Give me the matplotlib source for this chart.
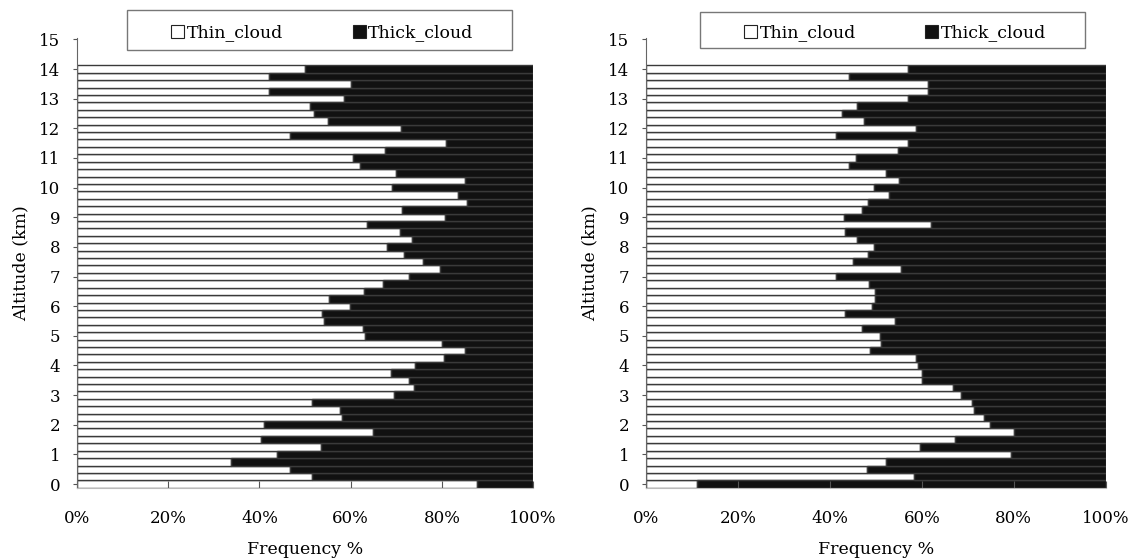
import matplotlib
matplotlib.use("Agg")
import matplotlib.pyplot as plt
import numpy as np
from matplotlib.patches import Patch, Rectangle

plt.rcParams['font.family'] = ['DejaVu Serif']

# altitude levels (km), 0.25 km steps
altitude = np.arange(0, 14.25, 0.25)

# thin cloud share (%) from 0 km upward; thick = 100 - thin
thin_left = [87.6, 51.6, 46.6, 33.8, 43.9, 53.4, 40.3, 64.8, 40.9, 58.2,
             57.7, 51.6, 69.5, 73.9, 72.7, 68.8, 74.1, 80.5, 85.0, 80.0,
             63.2, 62.6, 54.2, 53.8, 59.9, 55.3, 63.0, 67.2, 72.7, 79.6,
             75.8, 71.8, 68.0, 73.4, 70.8, 63.5, 80.7, 71.2, 85.5, 83.6,
             69.0, 85.0, 70.0, 62.0, 60.6, 67.6, 81.0, 46.6, 71.0, 55.0,
             52.0, 51.0, 58.5, 42.0, 60.0, 42.0, 50.0]

thin_right = [11.2, 58.2, 48.0, 52.2, 79.3, 59.6, 67.2, 80.0, 74.9, 73.6,
              71.4, 71.0, 68.5, 66.7, 60.0, 60.0, 59.2, 58.8, 48.8, 51.2,
              50.9, 47.0, 54.2, 43.3, 49.1, 49.9, 49.9, 48.6, 41.3, 55.4,
              45.1, 48.2, 49.6, 46.0, 43.3, 62.0, 43.1, 47.1, 48.3, 52.9,
              49.6, 55.1, 52.3, 44.2, 45.7, 54.9, 56.9, 41.3, 58.8, 47.5,
              42.6, 46.0, 56.9, 61.4, 61.4, 44.2, 56.9]

xticks = [0, 20, 40, 60, 80, 100]
xtick_labels = ['0%', '20%', '40%', '60%', '80%', '100%']
yticks = list(range(0, 16))

fig = plt.figure(figsize=(11.33, 5.58), dpi=100)
ax_l = fig.add_axes([0.068, 0.1256, 0.4025, 0.8064])
ax_r = fig.add_axes([0.570, 0.1256, 0.406, 0.8064])

# legend box (axes coords): x0, y0, w, h
boxes = {ax_l: (0.11, 0.973, 0.844, 0.089), ax_r: (0.117, 0.978, 0.837, 0.079)}

for ax, thin in [(ax_l, thin_left), (ax_r, thin_right)]:
    thin = np.array(thin)
    thick = 100 - thin
    ax.barh(altitude, thin, height=0.25, color='white', edgecolor='#3a3a3a', linewidth=1.0)
    ax.barh(altitude, thick, left=thin, height=0.25, color='#111111', edgecolor='#3a3a3a', linewidth=1.0)

    ax.set_xlim(0, 100)
    ax.set_ylim(-0.13, 15.05)
    ax.set_xticks(xticks)
    ax.set_xticklabels(xtick_labels)
    ax.set_yticks(yticks)
    ax.tick_params(axis='x', direction='in', length=5, pad=16, labelsize=12, color='#555555')
    ax.tick_params(axis='y', direction='out', length=3, pad=9, labelsize=12, color='#555555')
    for s in ['top', 'right']:
        ax.spines[s].set_visible(False)
    ax.spines['left'].set_color('#666666')
    ax.spines['bottom'].set_color('#bbbbbb')

    ax.set_xlabel('Frequency %', fontsize=12.5, labelpad=10)
    ax.set_ylabel('Altitude (km)', fontsize=12.5, labelpad=7)

    bx, by, bw, bh = boxes[ax]
    ax.add_patch(Rectangle((bx, by), bw, bh, transform=ax.transAxes, clip_on=False,
                           facecolor='white', edgecolor='#777777', linewidth=1.0, zorder=5))
    handles = [Patch(facecolor='white', edgecolor='#222222', linewidth=0.8, label='Thin_cloud'),
               Patch(facecolor='#111111', edgecolor='#222222', linewidth=0.8, label='Thick_cloud')]
    leg = ax.legend(handles=handles, ncol=2, loc='center',
                    bbox_to_anchor=(bx + bw / 2 + 0.006, by + bh / 2 - 0.006), frameon=False,
                    fontsize=12.5, handlelength=0.75, handleheight=0.75, handletextpad=0.15,
                    borderaxespad=0, columnspacing=4.0)
    leg.set_zorder(6)

fig.savefig('out.png', dpi=100, facecolor='white')
